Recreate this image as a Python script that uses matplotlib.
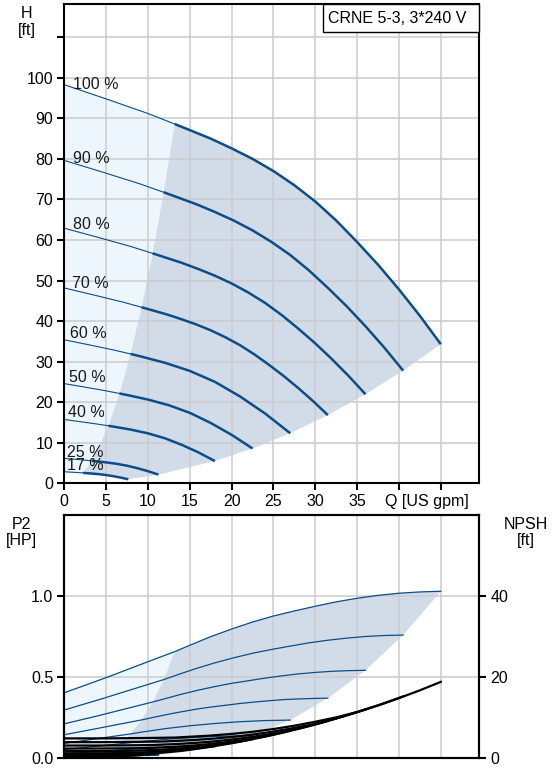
import matplotlib
matplotlib.use("Agg")
import matplotlib.pyplot as plt
from matplotlib.patches import Polygon, Rectangle

# ---------------- data ----------------
speed_labels = ["100 %", "90 %", "80 %", "70 %", "60 %", "50 %", "40 %", "25 %", "17 %"]

# flow points along each speed curve [US gpm]
q100 = [0, 5, 10, 13.2, 15, 17.5, 20, 22.5, 25, 27.5, 30, 32.5, 35, 37.5, 40, 42.5, 45]
q90 = [0, 4.5, 9, 11.88, 13.5, 15.75, 18, 20.25, 22.5, 24.75, 27, 29.25, 31.5, 33.75, 36, 38.25, 40.5]
q80 = [0, 4, 8, 10.56, 12, 14, 16, 18, 20, 22, 24, 26, 28, 30, 32, 34, 36]
q70 = [0, 3.5, 7, 9.24, 10.5, 12.25, 14, 15.75, 17.5, 19.25, 21, 22.75, 24.5, 26.25, 28, 29.75, 31.5]
q60 = [0, 3, 6, 7.92, 9, 12, 15, 18, 21, 24, 27]
q50 = [0, 2.5, 5, 6.6, 7.5, 10, 12.5, 15, 17.5, 20, 22.5]
q40 = [0, 2, 4, 5.28, 6, 8, 10, 12, 14, 16, 18]
q25 = [0, 1.25, 2.5, 3.3, 3.75, 5, 6.25, 7.5, 8.75, 10, 11.25]
q17 = [0, 0.85, 1.7, 2.24, 2.55, 3.4, 4.25, 5.1, 5.95, 6.8, 7.65]

# head [ft]
h100 = [98.3, 94.8, 91.2, 88.6, 87.1, 85.0, 82.6, 80.0, 77.0, 73.5, 69.5, 64.8, 59.5, 53.9, 47.8, 41.3, 34.3]
h90 = [79.62, 76.79, 73.87, 71.77, 70.55, 68.85, 66.91, 64.80, 62.37, 59.54, 56.30, 52.49, 48.20, 43.66, 38.72, 33.45, 27.78]
h80 = [62.91, 60.67, 58.37, 56.70, 55.74, 54.40, 52.86, 51.20, 49.28, 47.04, 44.48, 41.47, 38.08, 34.50, 30.59, 26.43, 21.95]
h70 = [48.17, 46.45, 44.69, 43.41, 42.68, 41.65, 40.47, 39.20, 37.73, 36.02, 34.06, 31.75, 29.16, 26.41, 23.42, 20.24, 16.81]
h60 = [35.39, 34.13, 32.83, 31.90, 31.36, 29.74, 27.72, 25.02, 21.42, 17.21, 12.35]
h50 = [24.58, 23.70, 22.80, 22.15, 21.78, 20.65, 19.25, 17.38, 14.88, 11.95, 8.58]
h40 = [15.73, 15.17, 14.59, 14.18, 13.94, 13.22, 12.32, 11.12, 9.52, 7.65, 5.49]
h25 = [6.14, 5.93, 5.70, 5.54, 5.44, 5.16, 4.81, 4.34, 3.72, 2.99, 2.14]
h17 = [2.84, 2.74, 2.64, 2.56, 2.52, 2.39, 2.23, 2.01, 1.72, 1.38, 0.99]

# shaft power P2 [HP]
p100 = [0.403, 0.496, 0.594, 0.656, 0.695, 0.748, 0.795, 0.838, 0.875, 0.906, 0.935, 0.962, 0.984, 1.002, 1.015, 1.023, 1.027]
p90 = [0.297, 0.366, 0.438, 0.484, 0.513, 0.552, 0.587, 0.618, 0.646, 0.669, 0.690, 0.710, 0.726, 0.739, 0.749, 0.755, 0.758]
p80 = [0.212, 0.261, 0.313, 0.346, 0.366, 0.394, 0.419, 0.441, 0.461, 0.477, 0.493, 0.507, 0.519, 0.528, 0.535, 0.539, 0.541]
p70 = [0.145, 0.179, 0.214, 0.236, 0.250, 0.269, 0.286, 0.302, 0.315, 0.326, 0.337, 0.346, 0.354, 0.361, 0.365, 0.368, 0.370]
p60 = [0.092, 0.114, 0.136, 0.150, 0.159, 0.182, 0.200, 0.214, 0.225, 0.232, 0.235]
p50 = [0.054, 0.067, 0.080, 0.089, 0.094, 0.107, 0.118, 0.126, 0.133, 0.137, 0.139]
p40 = [0.028, 0.035, 0.042, 0.046, 0.049, 0.056, 0.062, 0.066, 0.069, 0.071, 0.072]
p25 = [0.007, 0.009, 0.011, 0.012, 0.013, 0.014, 0.016, 0.017, 0.018, 0.018, 0.018]
p17 = [0.0024, 0.0029, 0.0035, 0.0039, 0.0041, 0.0047, 0.0052, 0.0055, 0.0058, 0.0060, 0.0061]

# NPSH [ft]
n100 = [4.9, 4.9, 5.0, 5.1, 5.3, 5.59, 6.0, 6.52, 7.2, 8.02, 9.0, 10.07, 11.4, 13.02, 14.8, 16.72, 18.8]
n90 = [3.97, 3.97, 4.05, 4.13, 4.29, 4.53, 4.86, 5.28, 5.83, 6.50, 7.29, 8.16, 9.23, 10.55, 11.99, 13.54, 15.23]
n80 = [3.14, 3.14, 3.20, 3.26, 3.39, 3.58, 3.84, 4.17, 4.61, 5.13, 5.76, 6.44, 7.30, 8.33, 9.47, 10.70, 12.03]
n70 = [2.40, 2.40, 2.45, 2.50, 2.60, 2.74, 2.94, 3.19, 3.53, 3.93, 4.41, 4.93, 5.59, 6.38, 7.25, 8.19, 9.21]
n60 = [1.76, 1.76, 1.80, 1.84, 1.91, 2.16, 2.59, 3.24, 4.10, 5.33, 6.77]
n50 = [1.23, 1.23, 1.25, 1.28, 1.33, 1.50, 1.80, 2.25, 2.85, 3.70, 4.70]
n40 = [0.78, 0.78, 0.80, 0.82, 0.85, 0.96, 1.15, 1.44, 1.82, 2.37, 3.01]
n25 = [0.31, 0.31, 0.31, 0.32, 0.33, 0.38, 0.45, 0.56, 0.71, 0.93, 1.18]
n17 = [0.14, 0.14, 0.14, 0.15, 0.15, 0.17, 0.21, 0.26, 0.33, 0.43, 0.54]

x_ticks = [0, 5, 10, 15, 20, 25, 30, 35, 40, 45]
x_ticklabels = ["0", "5", "10", "15", "20", "25", "30", "35", "", ""]
h_ticks = [0, 10, 20, 30, 40, 50, 60, 70, 80, 90, 100, 110]
h_ticklabels = ["0", "10", "20", "30", "40", "50", "60", "70", "80", "90", "100", ""]
p_ticks = [0.0, 0.5, 1.0]
p_ticklabels = ["0.0", "0.5", "1.0"]
npsh_ticks = [0, 20, 40]
npsh_ticklabels = ["0", "20", "40"]
title_text = "CRNE 5-3, 3*240 V"

Q = [q100, q90, q80, q70, q60, q50, q40, q25, q17]
H = [h100, h90, h80, h70, h60, h50, h40, h25, h17]
P = [p100, p90, p80, p70, p60, p50, p40, p25, p17]
N = [n100, n90, n80, n70, n60, n50, n40, n25, n17]

# ---------------- style / layout ----------------
plt.rcParams["font.family"] = ["Liberation Sans", "DejaVu Sans"]
FS = 11.5
BLUE = "#0b4d89"
LIGHT = "#eef6fd"
DARK = "#d1dce8"
GRID = "#cccccc"
JN = 3  # index where thin part ends / operating region begins
W, HT = 555.0, 769.0


def fx(px):
    return px / W


def fy(py):
    return 1 - py / HT


fig = plt.figure(figsize=(5.55, 7.69), dpi=100)
ax = fig.add_axes([fx(64.3), fy(483.3), (479.3 - 64.3) / W, (483.3 - 4) / HT])
axb = fig.add_axes([fx(64.3), fy(758.3), (479.3 - 64.3) / W, (758.3 - 515) / HT])


def regions(ys):
    last = len(Q) - 1
    light = [(Q[0][i], ys[0][i]) for i in range(0, JN + 1)]
    light += [(Q[k][JN], ys[k][JN]) for k in range(1, last + 1)]
    light += [(Q[last][i], ys[last][i]) for i in range(JN - 1, -1, -1)]
    dark = [(Q[k][JN], ys[k][JN]) for k in range(last, -1, -1)]
    dark += [(Q[0][i], ys[0][i]) for i in range(JN + 1, len(Q[0]))]
    dark += [(Q[k][-1], ys[k][-1]) for k in range(1, last + 1)]
    dark += [(Q[last][i], ys[last][i]) for i in range(len(Q[last]) - 2, JN, -1)]
    return light, dark


def style_axes(a):
    for s in a.spines.values():
        s.set_linewidth(1.5)
        s.set_color("black")
    a.tick_params(direction="out", length=5, width=1.5, labelsize=FS, pad=3,
                  color="black")


# ---------------- top: H(Q) ----------------
light, dark = regions(H)
ax.add_patch(Polygon(light, closed=True, facecolor=LIGHT, edgecolor="none", zorder=0.2))
ax.add_patch(Polygon(dark, closed=True, facecolor=DARK, edgecolor="none", zorder=0.3))
for q, h in zip(Q, H):
    ax.plot(q[:JN + 1], h[:JN + 1], color=BLUE, lw=0.8, zorder=2)
    ax.plot(q[JN:], h[JN:], color=BLUE, lw=1.8, zorder=2, solid_capstyle="butt",
            solid_joinstyle="round")

label_pos = [(1.0, 97.15), (1.0, 79.05), (1.0, 62.6), (0.88, 48.1), (0.68, 35.75),
             (0.6, 25.05), (0.48, 16.27), (0.29, 6.41), (0.29, 3.28)]
for lab, (lx, ly) in zip(speed_labels, label_pos):
    ax.text(lx, ly, lab, fontsize=FS, ha="left", va="baseline", color="#1a1a1a", zorder=3)

ax.set_xlim(0, 49.6)
ax.set_ylim(0, 118.2)
ax.set_xticks(x_ticks)
ax.set_xticklabels(x_ticklabels)
ax.set_xticks([43.33], minor=True)
ax.set_xticklabels(["Q [US gpm]"], minor=True)
ax.set_yticks(h_ticks)
ax.set_yticklabels(h_ticklabels)
style_axes(ax)
ax.tick_params(axis="x", which="minor", length=0, labelsize=FS, pad=8)
ax.grid(True, color=GRID, lw=1.1)
ax.set_axisbelow(True)

# title box
ax.add_patch(Rectangle(((323.3 - 64.3) / 415.0, 1 - 27.7 / 479.3),
                       (479.3 - 323.3) / 415.0, 27.7 / 479.3,
                       transform=ax.transAxes, facecolor="white", edgecolor="black",
                       lw=1.0, zorder=5, clip_on=False))
ax.text((328.3 - 64.3) / 415.0, 1 - 19.3 / 479.3, title_text, transform=ax.transAxes,
        fontsize=FS, ha="left", va="baseline", zorder=6)

# ---------------- bottom: P2 and NPSH ----------------
lightp, darkp = regions(P)
axb.add_patch(Polygon(lightp, closed=True, facecolor=LIGHT, edgecolor="none", zorder=0.2))
axb.add_patch(Polygon(darkp, closed=True, facecolor=DARK, edgecolor="none", zorder=0.3))
for q, p in zip(Q, P):
    axb.plot(q, p, color=BLUE, lw=0.9, zorder=2)
axb.set_xlim(0, 49.6)
axb.set_ylim(0, 1.496)
axb.set_xticks(x_ticks)
axb.set_yticks(p_ticks)
axb.set_yticklabels(p_ticklabels)
style_axes(axb)
axb.tick_params(axis="x", length=0, labelbottom=False)
axb.grid(True, color=GRID, lw=1.1)
axb.set_axisbelow(True)

axn = axb.twinx()
for q, n in zip(Q, N):
    axn.plot(q, n, color="black", lw=1.6, zorder=3)
axn.set_ylim(0, 59.84)
axn.set_yticks(npsh_ticks)
axn.set_yticklabels(npsh_ticklabels)
style_axes(axn)

# axis titles
fig.text(fx(26.7), fy(18.3), "H", fontsize=FS, ha="center", va="baseline")
fig.text(fx(26.7), fy(34.5), "[ft]", fontsize=FS, ha="center", va="baseline")
fig.text(fx(21.7), fy(529.3), "P2", fontsize=FS, ha="center", va="baseline")
fig.text(fx(21.7), fy(545.0), "[HP]", fontsize=FS, ha="center", va="baseline")
fig.text(fx(526.0), fy(529.3), "NPSH", fontsize=FS, ha="center", va="baseline")
fig.text(fx(526.0), fy(545.0), "[ft]", fontsize=FS, ha="center", va="baseline")

fig.savefig("out.png", dpi=100)
